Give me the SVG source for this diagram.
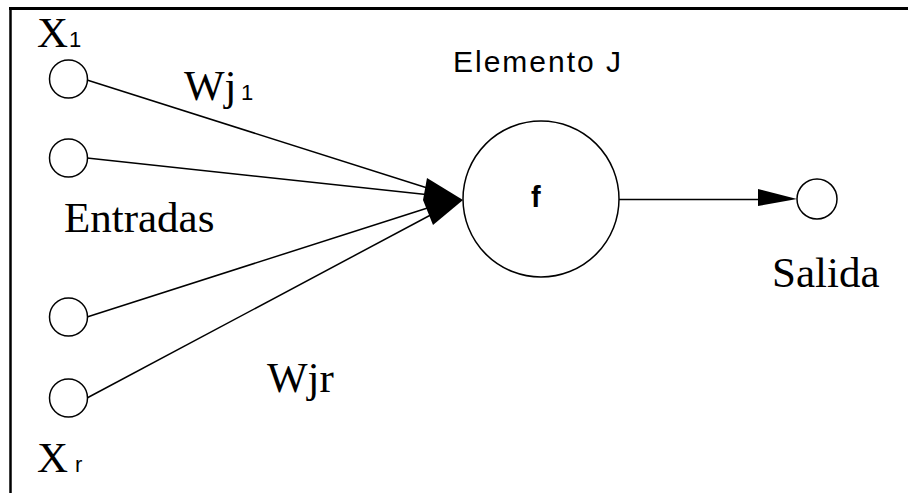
<svg xmlns="http://www.w3.org/2000/svg" width="908" height="493" viewBox="0 0 908 493">
<style>
.n{fill:#fff;stroke:#000;stroke-width:1.5}
.e{stroke:#000;stroke-width:1.5;fill:none}
.s{font-family:"Liberation Serif","Times New Roman",serif;font-size:43px;fill:#000}
.sub{font-family:"Liberation Sans",Arial,sans-serif;font-size:22px;fill:#000}
.a{font-family:"Liberation Sans",Arial,sans-serif;fill:#000}
</style>
<rect width="908" height="493" fill="#fff"/>
<g id="frame">
<line x1="9" y1="8.5" x2="908" y2="8.5" stroke="#000" stroke-width="3"/>
<line x1="10.5" y1="7" x2="10.5" y2="493" stroke="#000" stroke-width="2.5"/>
</g>
<g id="connectors">
<line class="e" x1="87" y1="80" x2="440" y2="192"/>
<line class="e" x1="87" y1="158" x2="440" y2="196"/>
<line class="e" x1="87" y1="317" x2="440" y2="204"/>
<line class="e" x1="87" y1="398" x2="440" y2="210"/>
<polygon points="427,178 463,200 433,225 423,200" fill="#000"/>
<line class="e" x1="619" y1="199.5" x2="770" y2="199.5"/>
<polygon points="758,189 797,199 758,206" fill="#000"/>
</g>
<g id="x1">
<circle class="n" cx="68.5" cy="79" r="19"/>
<text class="s" x="37" y="47">X</text><text class="sub" x="69" y="47">1</text>
</g>
<g id="x2"><circle class="n" cx="68.5" cy="158" r="19"/></g>
<g id="x3"><circle class="n" cx="68.5" cy="317" r="19"/></g>
<g id="xr">
<circle class="n" cx="68.5" cy="398" r="19"/>
<text class="s" x="37" y="472">X</text><text class="sub" x="75" y="472">r</text>
</g>
<g id="labels">
<text class="s" x="184" y="100">Wj</text><text class="sub" x="241" y="100">1</text>
<text class="s" x="64" y="232">Entradas</text>
<text class="s" x="267" y="392">Wjr</text>
</g>
<g id="elementoJ">
<circle class="n" cx="541" cy="199" r="78"/>
<text class="a" x="453" y="72" font-size="30" letter-spacing="2">Elemento J</text>
<text class="a" x="531" y="207" font-size="29" font-weight="bold">f</text>
</g>
<g id="salida">
<circle class="n" cx="817" cy="199" r="20"/>
<text class="s" x="772" y="287">Salida</text>
</g>
</svg>
